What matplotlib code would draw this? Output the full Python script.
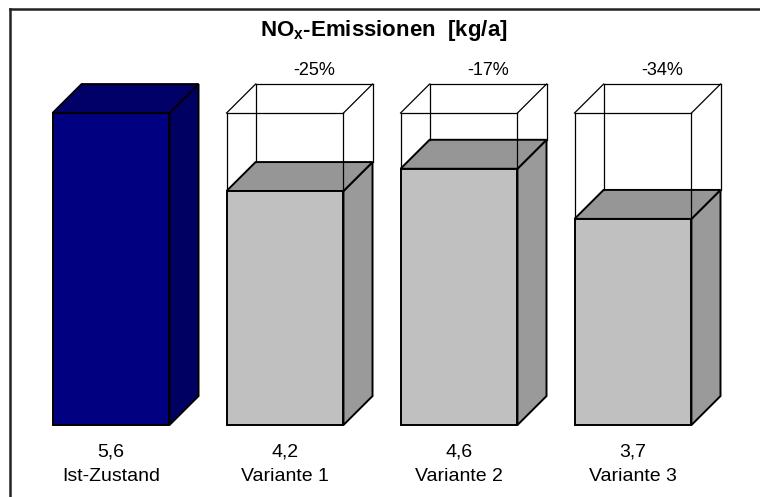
import matplotlib
matplotlib.use("Agg")
import matplotlib.pyplot as plt
from matplotlib.patches import Polygon
from matplotlib.lines import Line2D

plt.rcParams['font.family'] = ['Liberation Sans', 'DejaVu Sans']
plt.rcParams['mathtext.fontset'] = 'custom'
plt.rcParams['mathtext.rm'] = 'Liberation Sans'
plt.rcParams['mathtext.bf'] = 'Liberation Sans:bold'

categories = ["Ist-Zustand", "Variante 1", "Variante 2", "Variante 3"]
values = [5.6, 4.2, 4.6, 3.7]
value_labels = ["5,6", "4,2", "4,6", "3,7"]
change_labels = ["", "-25%", "-17%", "-34%"]
reference = values[0]

# bar geometry (x in category units, y in kg/a)
width = 0.672
dx, dy = 0.167, 0.52

blue = {"front": "#000080", "top": "#000068", "side": "#000062"}
grey = {"front": "#c0c0c0", "top": "#969696", "side": "#9a9a9a"}

fig = plt.figure(figsize=(7.6, 4.97), dpi=100)
ax = fig.add_axes([0, 0, 1, 1])
ax.set_xlim(-0.638, 3.73)
ax.set_ylim(-1.292, 7.629)
ax.axis("off")


def solid_box(x0, h, cols):
    x1 = x0 + width
    front = [(x0, 0), (x1, 0), (x1, h), (x0, h)]
    side = [(x1, 0), (x1 + dx, dy), (x1 + dx, h + dy), (x1, h)]
    top = [(x0, h), (x1, h), (x1 + dx, h + dy), (x0 + dx, h + dy)]
    for pts, key in ((side, "side"), (top, "top"), (front, "front")):
        ax.add_patch(Polygon(pts, closed=True, facecolor=cols[key],
                             edgecolor="black", lw=1.4, joinstyle="miter"))


def wire_box(x0, h, ref):
    # outline of the reference height above the shorter bar
    x1 = x0 + width
    segs = [
        [(x0, h), (x0, ref)], [(x1, h), (x1, ref)],
        [(x0, ref), (x1, ref)],
        [(x0, ref), (x0 + dx, ref + dy)], [(x1, ref), (x1 + dx, ref + dy)],
        [(x0 + dx, ref + dy), (x1 + dx, ref + dy)],
        [(x0 + dx, h + dy), (x0 + dx, ref + dy)],
        [(x1 + dx, h + dy), (x1 + dx, ref + dy)],
    ]
    for s in segs:
        ax.plot([p[0] for p in s], [p[1] for p in s], color="black", lw=0.9)


for i, (cat, v) in enumerate(zip(categories, values)):
    x0 = i - width / 2
    if i == 0:
        solid_box(x0, v, blue)
    else:
        solid_box(x0, v, grey)
        wire_box(x0, v, reference)
        ax.text(i + dx, reference + dy + 0.25, change_labels[i],
                ha="center", va="center", fontsize=13)
    ax.text(i, -0.49, value_labels[i], ha="center", va="center", fontsize=14)
    ax.text(i, -0.92, cat, ha="center", va="center", fontsize=14)

ax.text(1.57, 7.09, r"NO$_\mathbf{x}$-Emissionen  [kg/a]", ha="center",
        va="center", fontsize=16, fontweight="bold")

# frame line along the top and left edge
fig.add_artist(Line2D([9.5 / 760, 1], [1 - 8.5 / 497] * 2,
                      transform=fig.transFigure, color="#222222", lw=1.8))
fig.add_artist(Line2D([9.5 / 760] * 2, [0, 1 - 8.5 / 497],
                      transform=fig.transFigure, color="#222222", lw=1.8))

fig.savefig("out.png", dpi=100)
